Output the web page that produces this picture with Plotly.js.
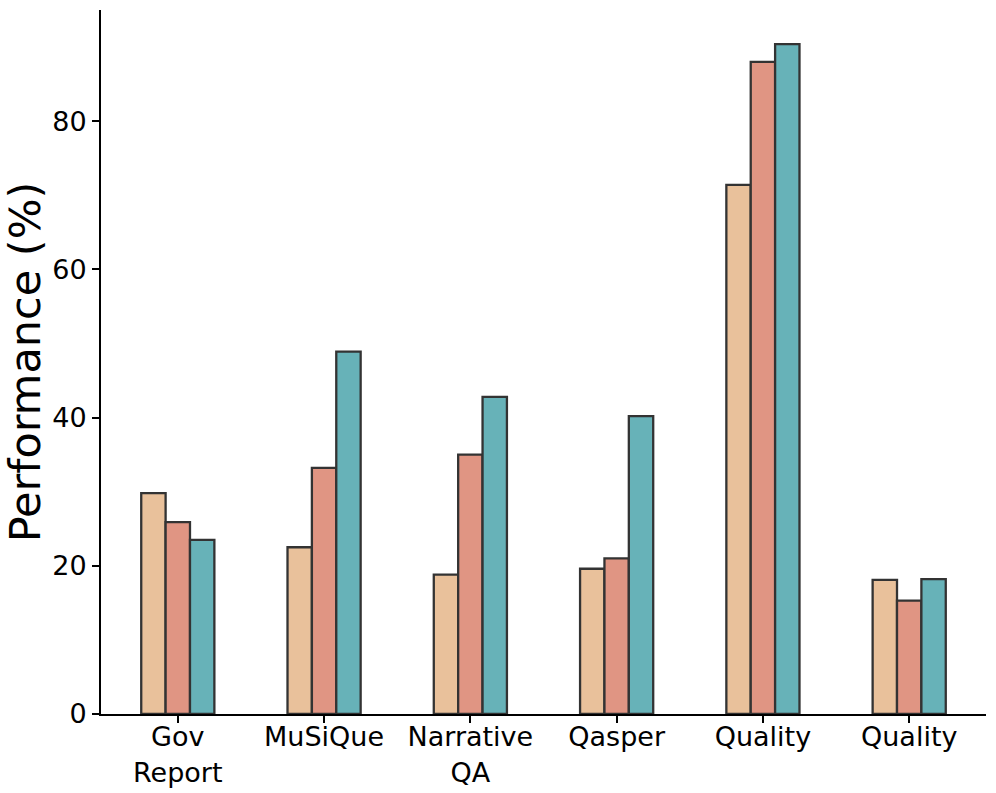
<!DOCTYPE html>
<html>
<head>
<meta charset="utf-8">
<script src="https://cdn.plot.ly/plotly-3.0.1.min.js"></script>
<style>html,body{margin:0;padding:0;background:#fff}#chart{width:996px;height:793px}</style>
</head>
<body>
<div id="chart"></div>
<script>
const categories = ["Gov<br>Report", "MuSiQue", "Narrative<br>QA", "Qasper", "Quality", "Quality"];
const seriesA = [29.8, 22.5, 18.8, 19.6, 71.4, 18.1];
const seriesB = [25.9, 33.2, 35.0, 21.0, 88.0, 15.3];
const seriesC = [23.5, 48.9, 42.8, 40.2, 90.4, 18.2];
const yTicks = [0, 20, 40, 60, 80];

const xPos = categories.map((_, i) => i);
const colors = ["#E9C19B", "#E09583", "#67B2B8"];
const mk = (vals, c, name) => ({
  type: "bar", x: xPos, y: vals, name: name,
  marker: {color: c, line: {color: "#333333", width: 2.3}},
  hoverinfo: "y"
});
const data = [mk(seriesA, colors[0], "A"), mk(seriesB, colors[1], "B"), mk(seriesC, colors[2], "C")];

const layout = {
  width: 996, height: 793,
  margin: {l: 101, r: 10, t: 10, b: 79},
  paper_bgcolor: "#fff", plot_bgcolor: "#fff",
  font: {family: "DejaVu Sans", color: "#000"},
  showlegend: false,
  barmode: "group", bargap: 0.5, bargroupgap: 0,
  xaxis: {
    range: [-0.525, 5.525], tickvals: xPos, ticktext: categories,
    showline: true, linecolor: "#000", linewidth: 2,
    ticks: "outside", ticklen: 7, tickwidth: 2, tickcolor: "#000",
    showgrid: false, zeroline: false, ticklabelstandoff: -9,
    tickfont: {size: 27, family: "DejaVu Sans", color: "#000"}
  },
  yaxis: {
    range: [0, 95], tickvals: yTicks,
    showline: true, linecolor: "#000", linewidth: 2,
    ticks: "outside", ticklen: 7, tickwidth: 2, tickcolor: "#000",
    showgrid: false, zeroline: false,
    tickfont: {size: 27, family: "DejaVu Sans", color: "#000"},
    title: {text: "Performance (%)", font: {size: 43, family: "DejaVu Sans", color: "#000"}, standoff: 10}
  }
};
Plotly.newPlot("chart", data, layout, {displayModeBar: false, staticPlot: true});
</script>
</body>
</html>
